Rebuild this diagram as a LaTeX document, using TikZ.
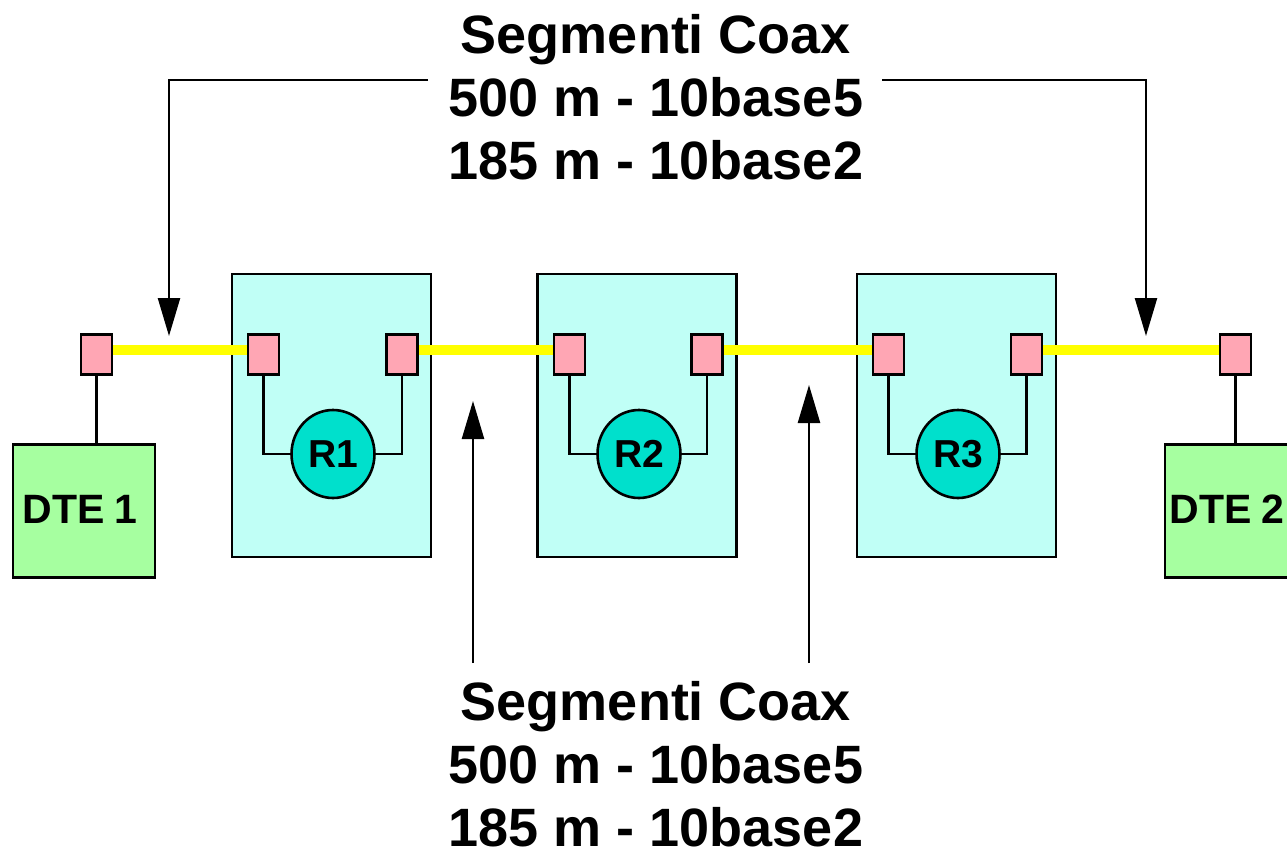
\documentclass[tikz,border=0pt]{standalone}
\usepackage{fontspec}
\setmainfont{Liberation Sans}
\usetikzlibrary{arrows.meta,shapes.geometric}
\definecolor{repfill}{RGB}{192,255,246}
\definecolor{pinkfill}{RGB}{255,166,180}
\definecolor{cirfill}{RGB}{0,224,204}
\definecolor{dtefill}{RGB}{166,255,160}
\definecolor{coaxcol}{RGB}{255,255,0}
\begin{document}
\begin{tikzpicture}[x=0.5pt,y=-0.5pt,
  repbox/.style={draw=black,line width=1.3pt,fill=repfill,minimum width=99.5pt,minimum height=141.5pt,inner sep=0pt},
  dtebox/.style={draw=black,line width=1.3pt,fill=dtefill,minimum width=71pt,minimum height=66.5pt,inner sep=0pt,font=\fontsize{20.5}{22}\selectfont\bfseries},
  tap/.style={draw=black,line width=1.3pt,fill=pinkfill,minimum width=15.5pt,minimum height=20pt,inner sep=0pt},
  rep/.style={ellipse,draw=black,line width=1.3pt,fill=cirfill,minimum width=41.5pt,minimum height=44pt,inner sep=0pt,font=\fontsize{19.5}{21}\selectfont\bfseries},
  coax/.style={draw=coaxcol,line width=5pt},
  wire/.style={draw=black,line width=1.2pt},
  pointer/.style={draw=black,line width=1.2pt,-{Triangle[width=11pt,length=19pt]}},
  label/.style={align=center,font=\fontsize{27}{31.5}\selectfont\bfseries,inner sep=0pt}]
\useasboundingbox (0,0) rectangle (1287,853);
% repeater boxes
\node[repbox] (b1) at (331.5,415.5) {};
\node[repbox] (b2) at (637,415.5) {};
\node[repbox] (b3) at (956.5,415.5) {};
% DTE boxes
\node[dtebox] (d1) at (84,511) {\raisebox{1.5pt}{\kern-4pt DTE\kern-1pt\ 1}};
\node[dtebox] (d2) at (1236,511) {\raisebox{1.5pt}{\kern-9pt DTE\kern-1pt\ 2}};
% coax segments
\coordinate (c0) at (104,349.5);
\coordinate (c1) at (256,349.5);
\coordinate (c2) at (410,349.5);
\coordinate (c3) at (562,349.5);
\coordinate (c4) at (714,349.5);
\coordinate (c5) at (881,349.5);
\coordinate (c6) at (1034,349.5);
\coordinate (c7) at (1228,349.5);
\path[coax] (c0) -- (c1);
\path[coax] (c2) -- (c3);
\path[coax] (c4) -- (c5);
\path[coax] (c6) -- (c7);
% taps
\node[tap] (t0) at (96.5,354.5) {};
\node[tap] (t1a) at (263.5,354.5) {};
\node[tap] (t1b) at (402,354.5) {};
\node[tap] (t2a) at (569.5,354.5) {};
\node[tap] (t2b) at (707,354.5) {};
\node[tap] (t3a) at (888.5,354.5) {};
\node[tap] (t3b) at (1026.5,354.5) {};
\node[tap] (t4) at (1235.5,354.5) {};
% repeaters
\node[rep] (r1) at (333,454) {R1};
\node[rep] (r2) at (639,454) {R2};
\node[rep] (r3) at (958,454) {R3};
% wires
\draw[wire] (t0.south) -- (d1.north -| t0.south);
\draw[wire] (t4.south) -- (d2.north -| t4.south);
\draw[wire] (t1a.south) |- (r1.west);
\draw[wire] (t1b.south) |- (r1.east);
\draw[wire] (t2a.south) |- (r2.west);
\draw[wire] (t2b.south) |- (r2.east);
\draw[wire] (t3a.south) |- (r3.west);
\draw[wire] (t3b.south) |- (r3.east);
% labels
\node[label] (top) at (656,97) {Segmenti Coax\\500 m - 10base5\\185 m - 10base2};
\node[label] (bot) at (656,764) {Segmenti Coax\\500 m - 10base5\\185 m - 10base2};
% pointers
\coordinate (tl) at (428,80);
\coordinate (tr) at (882,80);
\coordinate (tipl) at (169,336);
\coordinate (tipr) at (1146,336);
\draw[pointer] (tl) -| (tipl);
\draw[pointer] (tr) -| (tipr);
\coordinate (bl) at (473,663);
\coordinate (br) at (809,663);
\coordinate (tipbl) at (473,401);
\coordinate (tipbr) at (809,385);
\draw[pointer] (bl) -- (tipbl);
\draw[pointer] (br) -- (tipbr);
\end{tikzpicture}
\end{document}
